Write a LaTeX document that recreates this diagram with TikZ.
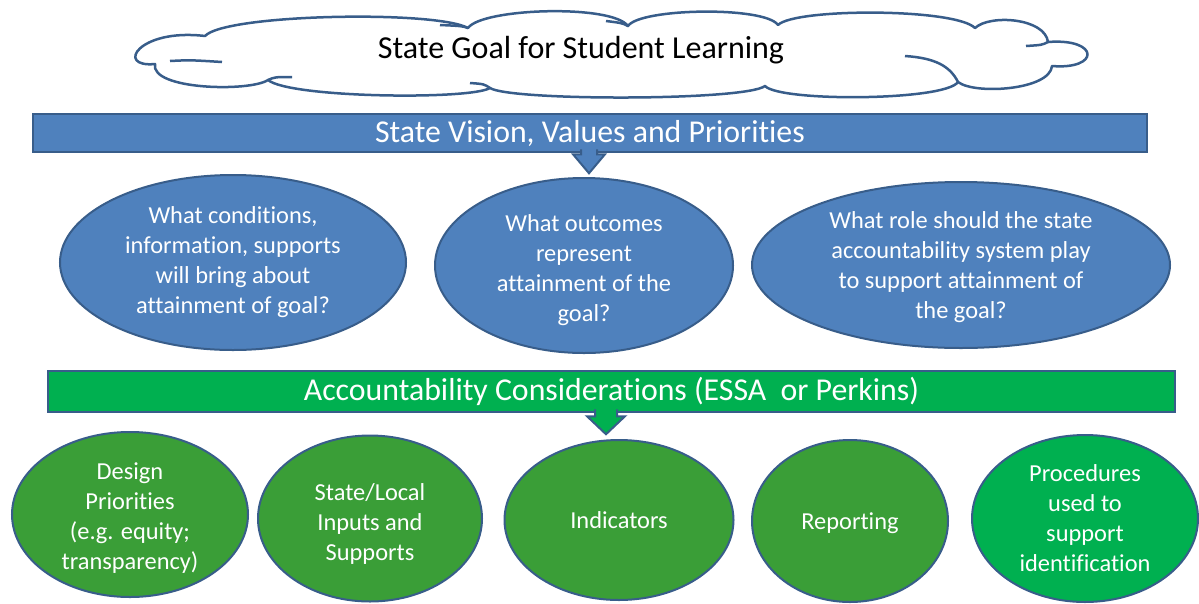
\documentclass[tikz,border=0pt]{standalone}
\usepackage{fontspec}
\setmainfont{Carlito}[Ligatures={NoCommon}]
\usepackage{tikz}
\usetikzlibrary{positioning, shapes.geometric, calc}

\definecolor{boxblue}{HTML}{4F81BD}
\definecolor{edgeblue}{HTML}{385D8A}
\definecolor{brightgreen}{HTML}{00B050}
\definecolor{leafgreen}{HTML}{3A9E37}

\begin{document}
\begin{tikzpicture}[
  x=1pt, y=-1pt,
  banner/.style={
    rectangle,
    draw=edgeblue,
    fill=#1,
    line width=2.5pt,
    inner sep=0pt,
    text=white,
    font=\fontsize{31.8}{36}\selectfont
  },
  question/.style={
    ellipse,
    draw=edgeblue,
    fill=boxblue,
    line width=2pt,
    inner sep=-10pt,
    text=white,
    align=center,
    font=\fontsize{24.4}{30}\selectfont
  },
  part/.style={
    ellipse,
    draw=edgeblue,
    fill=#1,
    line width=2pt,
    inner sep=-10pt,
    text=white,
    align=center,
    font=\fontsize{24.4}{30}\selectfont
  },
  cloudline/.style={
    draw=edgeblue,
    line width=2.5pt,
    line join=round
  },
  blockarrow/.style={
    draw=edgeblue,
    fill=#1,
    line width=2pt,
    line join=miter
  }
]
\useasboundingbox (0,0) rectangle (1199,603);

% Goal cloud
\draw[cloudline, fill=white] (155,64)
  .. controls (115,68) and (138,28) .. (205,36)
  .. controls (225,14) and (435,10) .. (468,28)
  .. controls (482,8) and (612,4) .. (628,26)
  .. controls (640,8) and (765,6) .. (778,25)
  .. controls (795,8) and (955,8) .. (975,28)
  .. controls (990,14) and (1045,18) .. (1048,42)
  .. controls (1100,38) and (1100,70) .. (1052,66)
  .. controls (1050,90) and (975,95) .. (958,82)
  .. controls (945,101) and (780,102) .. (765,86)
  .. controls (745,101) and (510,101) .. (490,88)
  .. controls (470,100) and (290,98) .. (268,80)
  .. controls (250,92) and (150,90) .. (155,64) -- cycle;
\draw[cloudline] (170,61) .. controls (190,60) .. (222,62);
\draw[cloudline] (468,28) .. controls (462,26) .. (440,25);
\draw[cloudline] (628,26) .. controls (622,23) .. (606,21);
\draw[cloudline] (1048,42) .. controls (1042,45) .. (1026,46);
\draw[cloudline] (958,82) .. controls (950,66) and (935,58) .. (905,56);
\draw[cloudline] (490,88) .. controls (484,84) .. (470,83);
\draw[cloudline] (268,80) .. controls (275,77) .. (292,77);
\node[font=\fontsize{32}{36}\selectfont] (goal) at (581,50) {State Goal for Student Learning};

% Vision banner
\node[banner=boxblue, minimum width=1114, minimum height=38] (vision) at (590,133) {State Vision, Values and Priorities};

% Questions
\node[question, minimum width=346, minimum height=175] (cond) at (233,262.5)
  {What conditions,\\information, supports\\will bring about\\attainment of goal?};
\node[question, minimum width=298, minimum height=175] (outc) at (584,265.5)
  {\rule{0pt}{26pt}What outcomes\\represent\\attainment of the\\goal?};
\node[question, minimum width=418, minimum height=166] (role) at (961,265)
  {\rule{0pt}{22pt}What role should the state\\accountability system play\\to support attainment of\\the goal?};

% Considerations banner
\node[banner=brightgreen, minimum width=1127, minimum height=41] (cons) at (611.5,391.5) {Accountability Considerations (ESSA\ \ or Perkins)};

% Parts
\node[part=leafgreen, minimum width=236, minimum height=165] (design) at (130,514.5)
  {\rule{0pt}{23pt}Design\\Priorities\\(e.g. equity;\\transparency)};
\node[part=leafgreen, minimum width=224, minimum height=166] (inputs) at (370,518.5)
  {\rule{0pt}{28pt}State/Local\\Inputs and\\Supports};
\node[part=leafgreen, minimum width=229, minimum height=160] (ind) at (619,520) {Indicators};
\node[part=leafgreen, minimum width=196, minimum height=162] (rep) at (850,521) {\rule{0pt}{22pt}Reporting};
\node[part=brightgreen, minimum width=226, minimum height=167] (proc) at (1085,518.5)
  {Procedures\\used to\\support\\identification};

% Block arrows
\draw[blockarrow=boxblue] ($(vision.south)+(-9,-4)$) -- ++(0,5) -- ++(-8,0)
  -- ++(16,19) -- ++(16,-19) -- ++(-8,0) -- ++(0,-5);
\draw[blockarrow=brightgreen] ($(cons.south)+(-16.5,-4)$) -- ++(0,7) -- ++(-8,0)
  -- ++(19,18) -- ++(19,-18) -- ++(-8,0) -- ++(0,-7);
\end{tikzpicture}
\end{document}
